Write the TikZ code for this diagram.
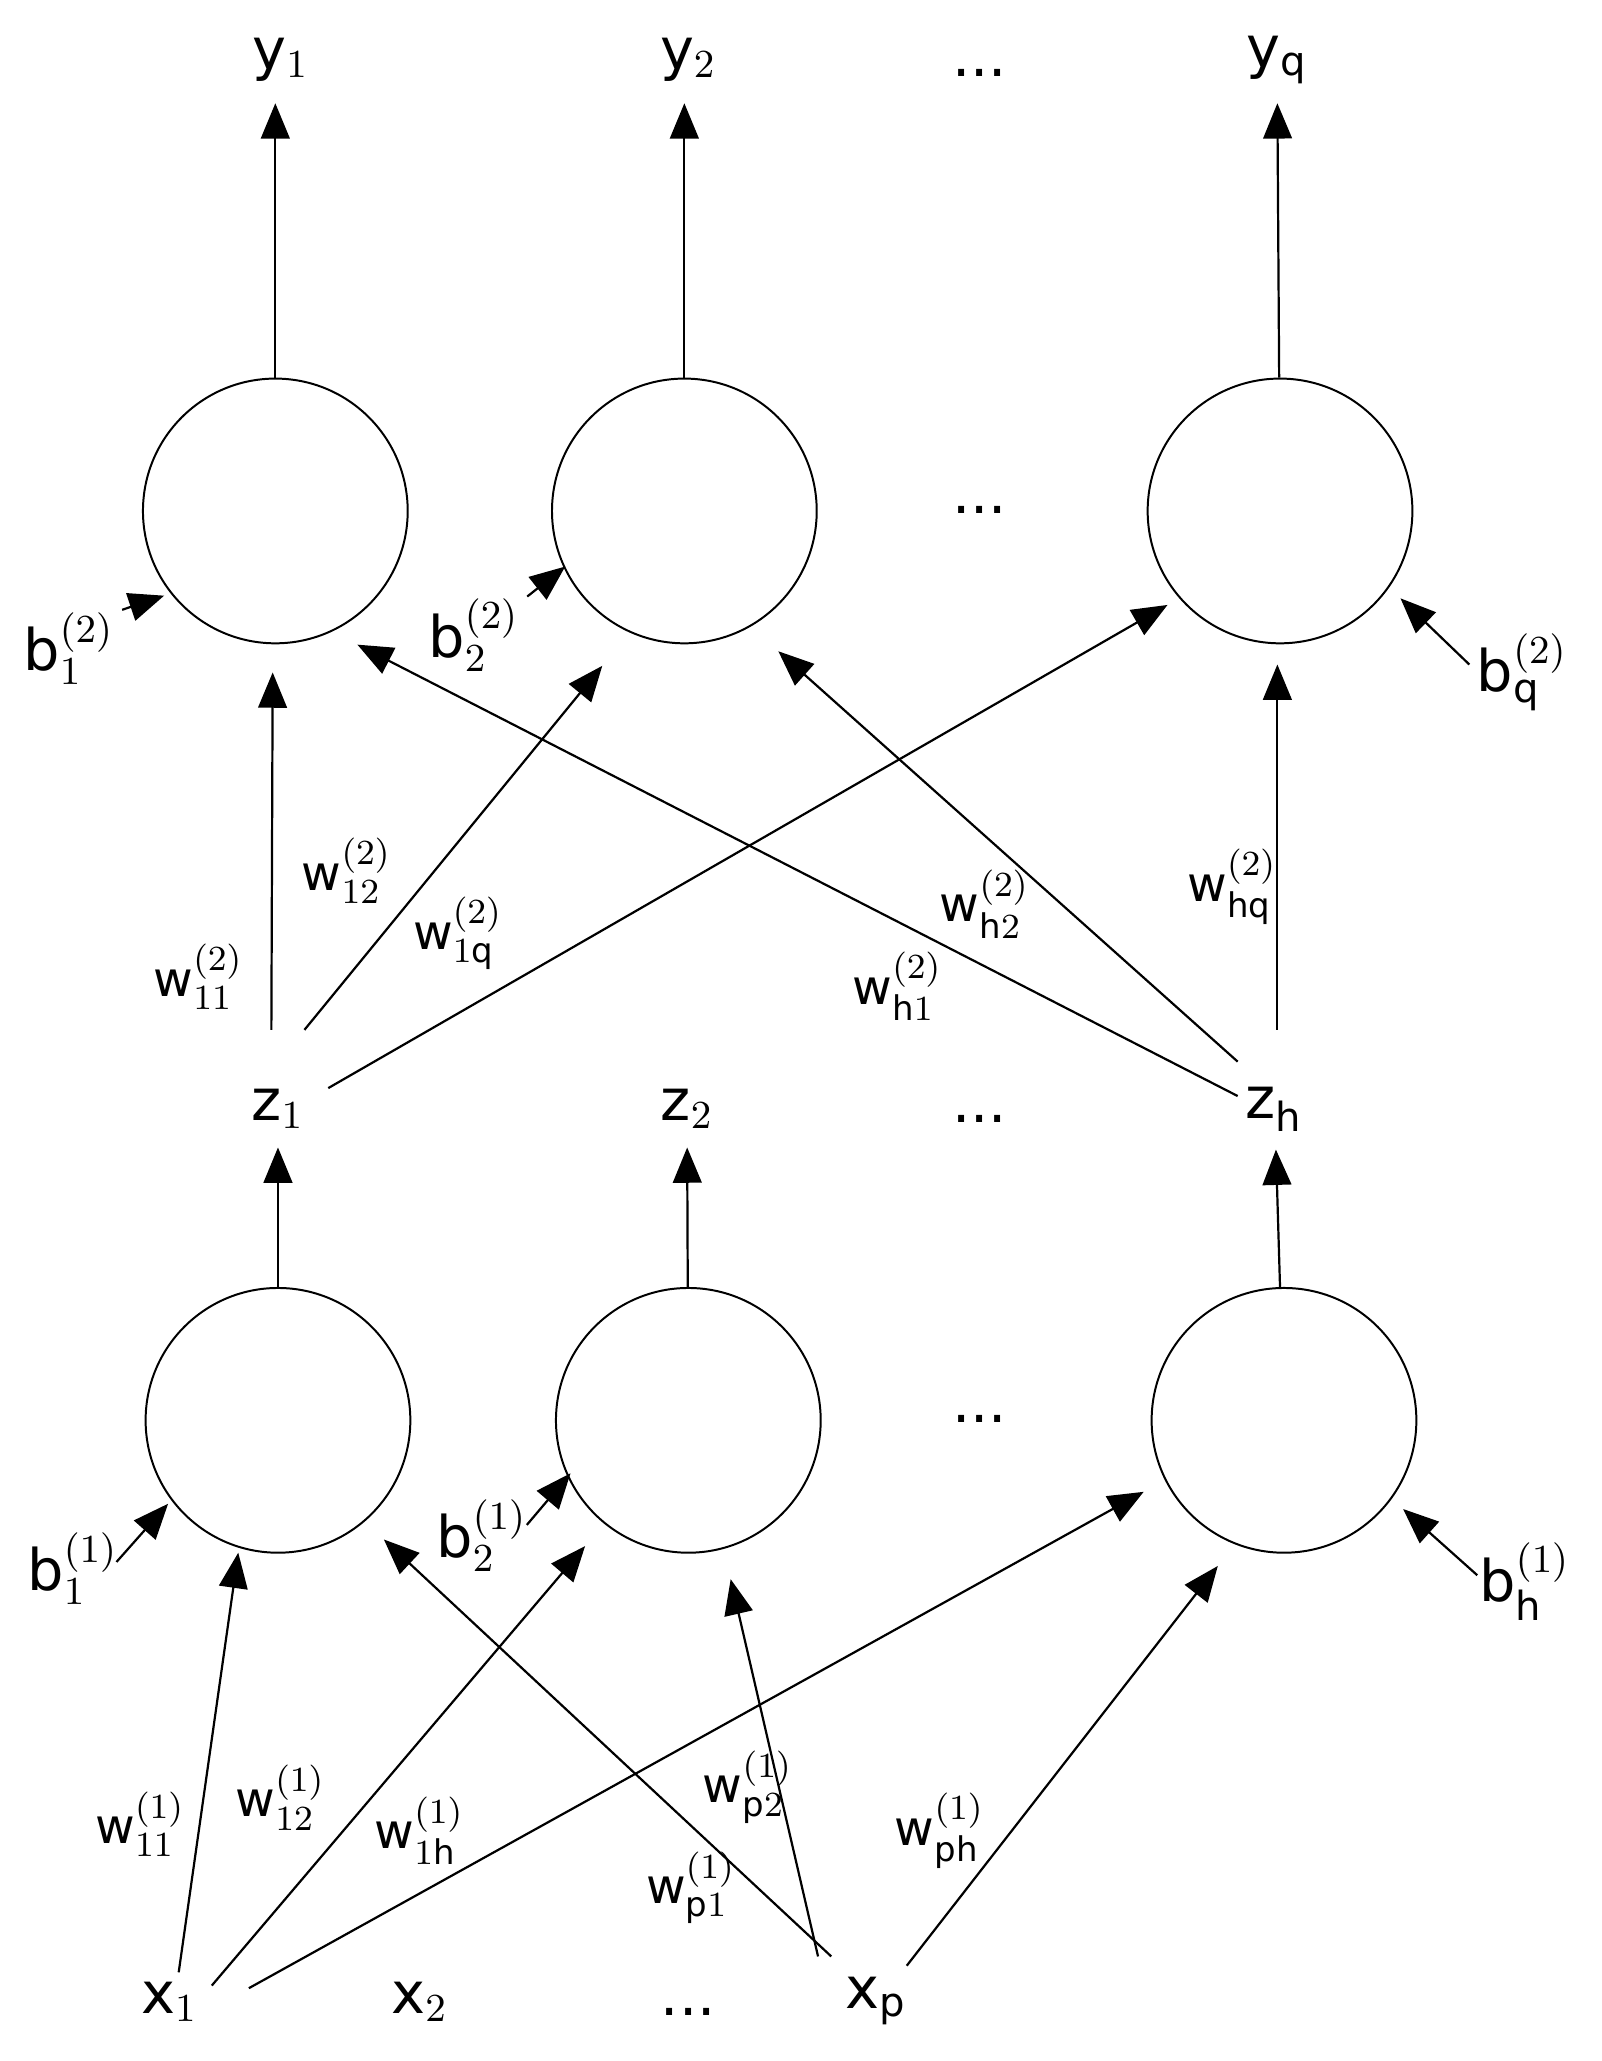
\documentclass[tikz,border=0pt]{standalone}
\usepackage{fontspec}
\setmainfont{DejaVu Sans}
\usetikzlibrary{arrows.meta}
\begin{document}
\begin{tikzpicture}[x=0.3pt,y=-0.3pt,
  neuron/.style={draw,circle,minimum size=60pt,inner sep=0pt,line width=0.45pt},
  lab/.style={font=\fontsize{13}{15}\selectfont,inner sep=4pt},
  wl/.style={font=\fontsize{11}{13}\selectfont,inner sep=0pt},
  arr/.style={line width=0.5pt,-{Triangle[length=8pt,width=6.5pt]}}]
\useasboundingbox (0,0) rectangle (1210,1557);
% output layer
\node[neuron] (o1) at (208,386) {};
\node[neuron] (o2) at (517,386) {};
\node[neuron] (oq) at (967,386) {};
\node[lab] at (740,385) {...};
\node[lab] (y1) at (212,45) {y$_1$};
\node[lab] (y2) at (520,45) {y$_2$};
\node[lab] at (740,55) {...};
\node[lab] (yq) at (965,45) {y$_\mathrm{q}$};
\draw[arr] (o1) -- (208,78);
\draw[arr] (o2) -- (517,78);
\draw[arr] (oq) -- (965,78);
% hidden outputs
\node[lab] (z1) at (210,838) {z$_1$};
\node[lab] (z2) at (519,838) {z$_2$};
\node[lab] at (740,845) {...};
\node[lab] (zh) at (963,838) {z$_\mathrm{h}$};
% hidden layer
\node[neuron] (h1) at (210,1073) {};
\node[neuron] (h2) at (520,1073) {};
\node[neuron] (hh) at (970,1073) {};
\node[lab] at (740,1072) {...};
\draw[arr] (h1) -- (z1);
\draw[arr] (h2) -- (z2);
\draw[arr] (hh) -- (zh);
% z to outputs
\coordinate (z1a) at (205,778); \coordinate (z1b) at (230,778); \coordinate (z1c) at (248,822);
\coordinate (zha) at (965,778); \coordinate (zhb) at (935,802); \coordinate (zhc) at (935,828);
\draw[arr] (z1a) -- (206,508);
\draw[arr] (z1b) -- (455,503);
\draw[arr] (z1c) -- (882,457);
\draw[arr] (zhc) -- (270,487);
\draw[arr] (zhb) -- (588,492);
\draw[arr] (zha) -- (965,502);
% biases layer 2
\node[lab] (b12) at (52,490) {b$^{(2)}_1$};
\node[lab] (b22) at (358,480) {b$^{(2)}_2$};
\node[lab] (bq2) at (1150,508) {b$^{(2)}_\mathrm{q}$};
\draw[arr] (b12.north east) ++(-8,12) -- (124,450);
\draw[arr] (b22.north east) ++(-8,12) -- (427,428);
\draw[arr] (1110,502) -- (1058,452);
% weights layer 2
\node[wl] at (150,738) {w$^{(2)}_{11}$};
\node[wl] at (262,658) {w$^{(2)}_{12}$};
\node[wl] at (346,705) {w$^{(2)}_{1\mathrm{q}}$};
\node[wl] at (744,683) {w$^{(2)}_{\mathrm{h}2}$};
\node[wl] at (678,745) {w$^{(2)}_{\mathrm{h}1}$};
\node[wl] at (931,670) {w$^{(2)}_{\mathrm{hq}}$};
% inputs
\node[lab] (x1) at (128,1512) {x$_1$};
\node[lab] (x2) at (317,1512) {x$_2$};
\node[lab] at (520,1520) {...};
\node[lab] (xp) at (662,1512) {x$_\mathrm{p}$};
\coordinate (x1a) at (135,1490); \coordinate (x1b) at (160,1500); \coordinate (x1c) at (188,1502);
\coordinate (xpa) at (628,1478); \coordinate (xpb) at (618,1478); \coordinate (xpc) at (685,1485);
\draw[arr] (x1a) -- (180,1173);
\draw[arr] (x1b) -- (442,1168);
\draw[arr] (x1c) -- (864,1127);
\draw[arr] (xpa) -- (290,1163);
\draw[arr] (xpb) -- (552,1193);
\draw[arr] (xpc) -- (920,1183);
% biases layer 1
\node[lab] (b11) at (55,1185) {b$^{(1)}_1$};
\node[lab] (b21) at (364,1160) {b$^{(1)}_2$};
\node[lab] (bh1) at (1152,1195) {b$^{(1)}_\mathrm{h}$};
\draw[arr] (88,1180) -- (127,1136);
\draw[arr] (398,1152) -- (431,1113);
\draw[arr] (1116,1190) -- (1060,1140);
% weights layer 1
\node[wl] at (106,1378) {w$^{(1)}_{11}$};
\node[wl] at (212,1358) {w$^{(1)}_{12}$};
\node[wl] at (317,1383) {w$^{(1)}_{1\mathrm{h}}$};
\node[wl] at (565,1350) {w$^{(1)}_{\mathrm{p}2}$};
\node[wl] at (522,1426) {w$^{(1)}_{\mathrm{p}1}$};
\node[wl] at (710,1383) {w$^{(1)}_{\mathrm{ph}}$};
\end{tikzpicture}
\end{document}
